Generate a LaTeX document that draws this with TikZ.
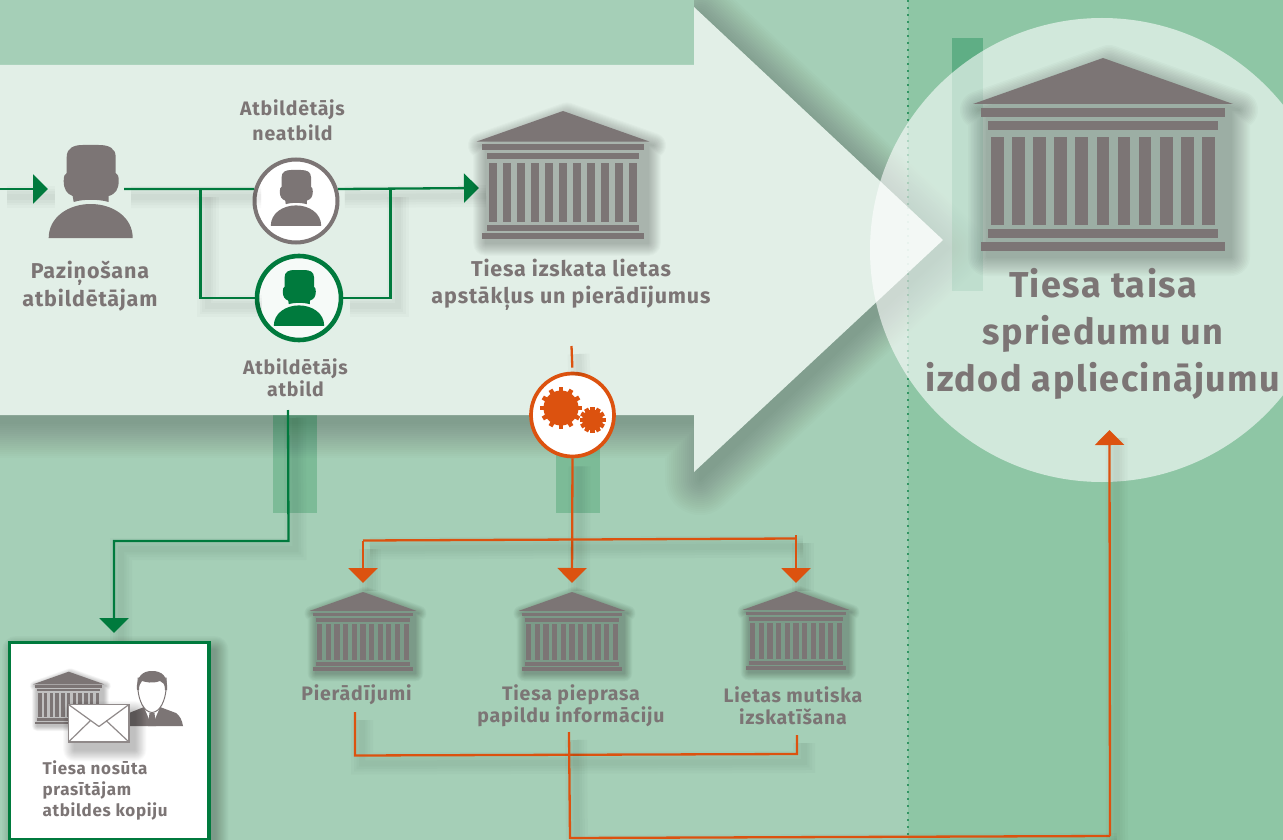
\documentclass[tikz,border=0pt]{standalone}
\usepackage{fontspec}
\setmainfont[LetterSpace=4]{Fira Sans}
\usetikzlibrary{arrows.meta, positioning}

\definecolor{leftbg}{HTML}{A5CFB7}
\definecolor{rightbg}{HTML}{8EC6A5}
\definecolor{arrowfill}{HTML}{E2EFE7}
\definecolor{courtgrey}{HTML}{7C7575}
\definecolor{lawgreen}{HTML}{007A3D}
\definecolor{steporange}{HTML}{DC520F}
\definecolor{stripdark}{HTML}{5FAE85}
\definecolor{stripmid}{HTML}{7CBB97}

% stacked see-through copies give a blurred edge
\newcommand{\softshade}[2]{%
  \foreach \shw in {2,5,...,38} {
    \begin{scope}[transparency group, opacity=.018]
      \path[fill=black, draw=black, line join=round, line width=\shw*#2 pt] #1;
    \end{scope}
  }}

\tikzset{
  pics/courthouse/.style={code={
    \begin{scope}[scale=#1]
      \begin{scope}[shift={(6,6)}]
        \softshade{(0,0) -- (130,46) -- (122,46) -- (122,193) -- (-122,193) -- (-122,46) -- (-130,46) -- cycle}{#1}
      \end{scope}
      \fill[courtgrey] (0,0) -- (130,46) -- (-130,46) -- cycle;
      \fill[courtgrey] (-122,50.3) rectangle (122,59.3);
      \fill[courtgrey] (-115,63.3) rectangle (115,72.3);
      \foreach \col in {0,...,10}
        \fill[courtgrey] (-112+21.1*\col,78.7) rectangle ++(12.7,88.3);
      \fill[courtgrey] (-115,171.3) rectangle (115,180.3);
      \fill[courtgrey] (-122,183.7) rectangle (122,193);
    \end{scope}
  }},
  pics/person/.style 2 args={code={
    \begin{scope}[scale=#1]
      \fill[#2] (-17,57) -- (-18,51) .. controls (-24,49) and (-27,44) .. (-27,36)
        .. controls (-27,31) and (-26,29) .. (-24,28) -- (-24,12)
        .. controls (-24,3) and (-17,0) .. (-8,0) -- (8,0)
        .. controls (18,0) and (25,3) .. (25,12) -- (25,28)
        .. controls (27,29) and (28,31) .. (28,36)
        .. controls (28,44) and (25,49) .. (18,51) -- (18,57)
        .. controls (8,54) and (-8,54) .. (-17,57) -- cycle;
      \fill[#2] (-42,93) .. controls (-42,72) and (-22,59) .. (0,59)
        .. controls (22,59) and (42,72) .. (42,93) -- cycle;
    \end{scope}
  }},
  pics/gearwheel/.style 2 args={code={
    \fill[steporange] (0,0) circle (#1);
    \foreach \ang in {0,30,...,330}
      \fill[steporange, rotate=\ang] (#1-1,-2.2) rectangle (#2,2.2);
  }},
  softwire/.style={
    preaction={draw=black, arrows=-, opacity=.02, line width=6pt, transform canvas={xshift=7pt,yshift=-8pt}},
    preaction={draw=black, arrows=-, opacity=.02, line width=11pt, transform canvas={xshift=7pt,yshift=-8pt}},
    preaction={draw=black, arrows=-, opacity=.02, line width=16pt, transform canvas={xshift=7pt,yshift=-8pt}},
    preaction={draw=black, arrows=-, opacity=.02, line width=22pt, transform canvas={xshift=7pt,yshift=-8pt}}},
  greenwire/.style={softwire, draw=lawgreen, line width=2.3pt},
  orangewire/.style={softwire, draw=steporange, line width=2.3pt},
  wiretip/.style={-{Triangle[length=15pt,width=29pt]}},
  ring/.style={circle, fill=white, inner sep=0pt},
  steplabel/.style={text=courtgrey, align=center, font=\fontsize{21.5}{27.5}\selectfont\bfseries},
  smalllabel/.style={text=courtgrey, align=center, font=\fontsize{19.5}{22.5}\selectfont\bfseries},
  boxlabel/.style={text=courtgrey, align=left, font=\fontsize{17}{21}\selectfont\bfseries},
  biglabel/.style={text=courtgrey, align=center, font=\fontsize{36}{47}\selectfont\bfseries}
}

\begin{document}
\begin{tikzpicture}[x=1pt, y=-1pt]
  \useasboundingbox (0,0) rectangle (1283,840);
  \clip (0,0) rectangle (1283,840);

  % background and strips
  \fill[leftbg] (0,0) rectangle (908,840);
  \fill[rightbg] (908,0) rectangle (1283,840);
  \fill[stripmid] (273,415) rectangle (317,513);
  \fill[stripmid] (556,415) rectangle (600,513);
  \fill[stripdark] (952,38) rectangle (983,291);
  \draw[draw=lawgreen!80!white, line width=2pt, dash pattern=on 2pt off 5pt] (908,0) -- (908,840);

  % big arrow
  \begin{scope}
    \clip (694,0) -- (1283,0) -- (1283,840) -- (0,840) -- (0,65) -- (694,65) -- cycle;
    \foreach \shw in {2,6,...,70} {
      \begin{scope}[transparency group, opacity=.013]
        \path[shift={(6,8)}, fill=black, draw=black, line join=round, line width=\shw pt]
          (-80,65) -- (694,65) -- (694,7) -- (943,240) -- (694,472) -- (694,415) -- (-80,415) -- cycle;
      \end{scope}
    }
  \end{scope}
  \fill[arrowfill] (-5,65) -- (694,65) -- (694,7) -- (943,240) -- (694,472) -- (694,415) -- (-5,415) -- cycle;
  \draw[draw=lawgreen, opacity=.1, line width=2pt, dash pattern=on 2pt off 5pt] (908,207) -- (908,273);

  % big circle
  \fill[white, opacity=.6] (1102,250) circle (232);

  % coordinates of free ends
  \coordinate (entry) at (0,189);
  \coordinate (entrytip) at (48,189);
  \coordinate (noticeout) at (124,189);
  \coordinate (splitin) at (200.5,189);
  \coordinate (splitout) at (390.5,188.5);
  \coordinate (courttip) at (479,188);
  \coordinate (replyout) at (288,410);
  \coordinate (copytip) at (114,633);
  \coordinate (weighin) at (571.5,346);
  \coordinate (branchr) at (796,538.5);
  \coordinate (branchl) at (363,540.5);
  \coordinate (proofout) at (355,712);
  \coordinate (askout) at (569,732);
  \coordinate (hearout) at (797,735);
  \coordinate (gatherl) at (355,755.5);
  \coordinate (gatherr) at (797,754);
  \coordinate (finalb) at (570,838);
  \coordinate (finalr) at (1110,836);
  \coordinate (prooftip) at (363,583);
  \coordinate (asktip) at (572,583);
  \coordinate (heartip) at (796,583);
  \coordinate (finaltip) at (1109.5,430);

  % rings
  \node[ring, minimum size=83pt, draw=courtgrey, line width=4pt] (noreply) at (296,201) {};
  \node[ring, minimum size=84pt, draw=lawgreen, line width=4.6pt, fill=white!70!arrowfill] (answer) at (299,298) {};
  \node[ring, minimum size=83pt, draw=steporange, line width=3.7pt] (gears) at (572.5,415) {};

  % green wires
  \draw[greenwire, wiretip] (entry) -- (entrytip);
  \draw[greenwire] (noticeout) -- (noreply.164);
  \draw[greenwire, wiretip] (noreply.16) -- (courttip);
  \draw[greenwire] (splitin) |- (answer.west);
  \draw[greenwire] (answer.east) -| (splitout);
  \draw[greenwire, wiretip] (replyout) -- ++(0.5,131) -| (copytip);

  % orange wires
  \draw[orangewire, shorten >=4pt] (weighin) -- (gears.north);
  \draw[orangewire, wiretip] (gears.south) -- (asktip);
  \draw[orangewire] (branchr) -- (branchl);
  \draw[orangewire, wiretip] (branchl) -- (prooftip);
  \draw[orangewire, wiretip] (796,535) -- (heartip);
  \draw[orangewire] (proofout) -- (gatherl) -- (gatherr) -- (hearout);
  \draw[orangewire] (askout) -- (finalb) -- (finalr);
  \draw[orangewire, wiretip] (finalr) -- (finaltip);

  % icons
  \pic at (90.7,145) {person={1}{courtgrey}};
  \pic at (296,170) {person={.6}{courtgrey}};
  \pic at (299,270) {person={.6}{lawgreen}};
  \pic at (561,408) {gearwheel={17.5}{21}};
  \pic at (592.5,420) {gearwheel={10.5}{13}};

  % courthouses
  \pic at (563,111) {courthouse=.665};
  \pic at (1103,58) {courthouse=1};
  \pic at (363,592) {courthouse=.41};
  \pic at (572,592) {courthouse=.41};
  \pic at (796,591) {courthouse=.41};

  % step labels
  \node[steplabel] (noticetext) at (90,286) {Paziņošana\\atbildētājam};
  \node[smalllabel, font=\fontsize{19.5}{24.5}\selectfont\bfseries] (norelytext) at (292.5,120.5) {Atbildētājs\\neatbild};
  \node[smalllabel] (answertext) at (295.5,378) {Atbildētājs\\atbild};
  \node[steplabel] (weightext) at (571,285) {Tiesa izskata lietas\\apstākļus un pierādījumus};
  \node[smalllabel] (prooftext) at (356.5,695) {Pierādījumi};
  \node[smalllabel] (asktext) at (571,706) {Tiesa pieprasa\\papildu informāciju};
  \node[smalllabel] (heartext) at (793,706) {Lietas mutiska\\izskatīšana};
  \node[biglabel] (verdicttext) at (1103,334) {Tiesa taisa\\spriedumu un\\izdod apliecinājumu};

  % copy box
  \begin{scope}[shift={(6,7)}]
    \softshade{(9.5,642.5) rectangle (209,839)}{.7}
  \end{scope}
  \node[draw=lawgreen, fill=white, line width=3.5pt, minimum width=199.5pt, minimum height=197pt, inner sep=0pt] (copybox) at (109.2,741) {};
  \pic at (68.7,671.7) {courthouse=.273};
  % man
  \fill[courtgrey] (129,726) -- (129,713) -- (144,707) -- (160,707) -- (176,713)
    .. controls (180,716) and (182,720) .. (183,726) -- cycle;
  \fill[white] (144,707) -- (160,707) -- (152,726) -- cycle;
  \fill[courtgrey] (149.5,713) -- (154.5,713) -- (156,726) -- (148,726) -- cycle;
  \draw[courtgrey, fill=white, line width=1pt] (152,712.5) .. controls (144,712) and (139,701) .. (138,690)
    -- (138,678) -- (166,678) -- (166,690) .. controls (165,701) and (160,712) .. (152,712.5);
  \fill[courtgrey] (137,690) .. controls (136,676) and (143,671) .. (152,671)
    .. controls (162,671) and (168,676) .. (167,690) -- (165,690)
    .. controls (165,684) and (163,682) .. (160,681) .. controls (152,684) and (146,682) .. (142,681)
    .. controls (140,683) and (139,686) .. (139,690) -- cycle;
  % envelope
  \begin{scope}[shift={(6,8)}]
    \softshade{(68.5,704.5) rectangle (129,742)}{.6}
  \end{scope}
  \draw[draw=courtgrey!85!white, fill=white, line width=1.8pt] (68.5,704.5) rectangle (129,742);
  \draw[draw=courtgrey!85!white, line width=1.2pt, line join=round]
    (68.5,704.5) -- (99,726.5) -- (129,704.5)
    (68.5,742) -- (90.5,720.5) (129,742) -- (106,720.5);
  \node[boxlabel, anchor=north west] (copytext) at (39,757) {Tiesa nosūta\\prasītājam\\atbildes kopiju};
\end{tikzpicture}
\end{document}
